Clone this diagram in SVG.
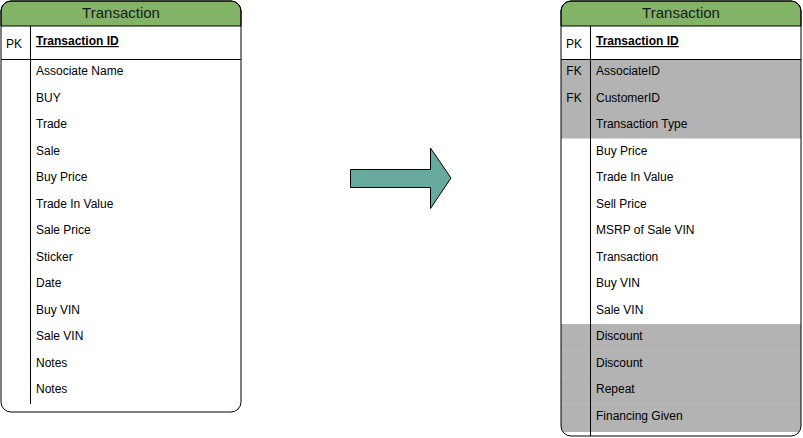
<svg xmlns="http://www.w3.org/2000/svg" width="803" height="438" viewBox="0 0 803 438">
<style>
.t{font-family:"Liberation Sans",Arial,sans-serif;font-size:12px;fill:#000}
.h{font-family:"Liberation Sans",Arial,sans-serif;font-size:15px;fill:#1a1a1a;text-anchor:middle}
.k{font-family:"Liberation Sans",Arial,sans-serif;font-size:12px;fill:#000;text-anchor:middle}
.b{font-weight:bold;text-decoration:underline}
.ln{stroke:#000;stroke-width:1;fill:none}
</style>
<defs>
<clipPath id="cr"><rect x="561" y="1" width="240" height="435" rx="10"/></clipPath>
</defs>
<rect width="803" height="438" fill="#fff"/>
<g id="left-table">
<rect x="1" y="1" width="240" height="411" rx="10" fill="#fff"/>
<path d="M1,26 V11 A10,10 0 0 1 11,1 H231 A10,10 0 0 1 241,11 V26 Z" fill="#82b366" stroke="#000"/>
<text class="h" x="121" y="18">Transaction</text>
<line class="ln" x1="1" y1="59.5" x2="241" y2="59.5"/>
<line class="ln" x1="30.5" y1="26" x2="30.5" y2="404"/>
<text class="k" x="14" y="48">PK</text>
<text class="t b" x="36" y="45">Transaction ID</text>
<text class="t" x="36" y="75">Associate Name</text>
<text class="t" x="36" y="102">BUY</text>
<text class="t" x="36" y="128">Trade</text>
<text class="t" x="36" y="155">Sale</text>
<text class="t" x="36" y="181">Buy Price</text>
<text class="t" x="36" y="208">Trade In Value</text>
<text class="t" x="36" y="234">Sale Price</text>
<text class="t" x="36" y="261">Sticker</text>
<text class="t" x="36" y="287">Date</text>
<text class="t" x="36" y="314">Buy VIN</text>
<text class="t" x="36" y="340">Sale VIN</text>
<text class="t" x="36" y="367">Notes</text>
<text class="t" x="36" y="393">Notes</text>
<rect x="1" y="1" width="240" height="411" rx="10" class="ln"/>
</g>
<g id="connectors">
<path d="M350.5,169.5 H430.5 V148 L451,178 L430.5,208.5 V187.5 H350.5 Z" fill="#67ab9f" stroke="#000"/>
</g>
<g id="right-table">
<rect x="561" y="1" width="240" height="435" rx="10" fill="#fff"/>
<g clip-path="url(#cr)">
<rect x="561" y="59" width="240" height="79.5" fill="#b3b3b3"/>
<rect x="561" y="324" width="240" height="108" fill="#b3b3b3"/>
<g stroke="#bababa" stroke-width="1">
<line x1="561" y1="350.5" x2="801" y2="350.5"/>
<line x1="561" y1="377" x2="801" y2="377"/>
<line x1="561" y1="403.5" x2="801" y2="403.5"/>
</g>
</g>
<path d="M561,26 V11 A10,10 0 0 1 571,1 H791 A10,10 0 0 1 801,11 V26 Z" fill="#82b366" stroke="#000"/>
<text class="h" x="681" y="18">Transaction</text>
<line class="ln" x1="561" y1="59.5" x2="801" y2="59.5"/>
<line class="ln" x1="590.5" y1="26" x2="590.5" y2="436"/>
<text class="k" x="574" y="48">PK</text>
<text class="t b" x="596" y="45">Transaction ID</text>
<text class="k" x="574" y="75">FK</text>
<text class="k" x="574" y="102">FK</text>
<text class="t" x="596" y="75">AssociateID</text>
<text class="t" x="596" y="102">CustomerID</text>
<text class="t" x="596" y="128">Transaction Type</text>
<text class="t" x="596" y="155">Buy Price</text>
<text class="t" x="596" y="181">Trade In Value</text>
<text class="t" x="596" y="208">Sell Price</text>
<text class="t" x="596" y="234">MSRP of Sale VIN</text>
<text class="t" x="596" y="261">Transaction</text>
<text class="t" x="596" y="287">Buy VIN</text>
<text class="t" x="596" y="314">Sale VIN</text>
<text class="t" x="596" y="340">Discount</text>
<text class="t" x="596" y="367">Discount</text>
<text class="t" x="596" y="393">Repeat</text>
<text class="t" x="596" y="420">Financing Given</text>
<rect x="561" y="1" width="240" height="435" rx="10" class="ln"/>
</g>
</svg>
